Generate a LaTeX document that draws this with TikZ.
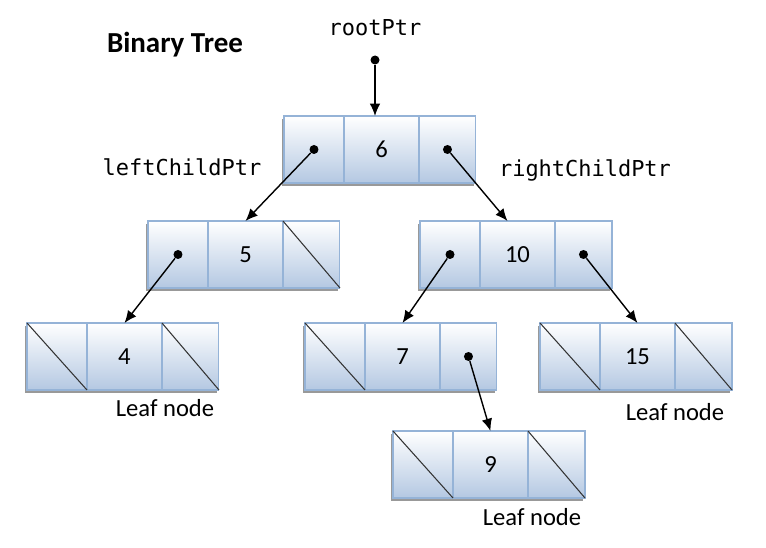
\documentclass[tikz,border=0pt]{standalone}
\usepackage{fontspec}
\setmainfont{Carlito}
\setmonofont{DejaVu Sans Mono}
\usetikzlibrary{arrows.meta}

\definecolor{cellfill}{RGB}{180,200,226}
\definecolor{celledge}{RGB}{149,179,215}

\tikzset{
  cell/.style={draw=celledge,line width=0.6pt,top color=white,bottom color=cellfill,
    minimum height=1.34cm,inner sep=0pt,outer sep=0pt,anchor=north west},
  lcell/.style={cell,minimum width=1.2cm},
  mcell/.style={cell,minimum width=1.5cm,font=\fontsize{14}{16}\selectfont},
  rcell/.style={cell,minimum width=1.14cm},
  dot/.style={circle,fill=black,inner sep=0pt,minimum size=0.18cm},
  ptrlabel/.style={font=\ttfamily\fontsize{12.5}{14}\selectfont},
  leaflabel/.style={font=\fontsize{14}{16}\selectfont},
  nullptr/.style={line width=0.6pt,black!80},
  link/.style={->,line width=0.8pt}
}

% one list node: name, x, y (top left), value
\newcommand{\listnode}[4]{%
  \fill[black!40] ({#2-2},{#3+3}) rectangle ++(192,67);
  \node[lcell] (#1l) at (#2,#3) {};
  \node[mcell] (#1) at (#1l.north east) {#4};
  \node[rcell] (#1r) at (#1.north east) {};
}

\begin{document}
\begin{tikzpicture}[>={Latex[length=7pt,width=6pt]},x=0.02cm,y=-0.02cm]
        \useasboundingbox (0,0) rectangle (766,547);
        \node[font=\bfseries\fontsize{16.5}{18}\selectfont] (title) at (175,45) {Binary Tree};
        \node[ptrlabel] (rootptr) at (375,28) {rootPtr};
        \node[dot] (rootdot) at (375,60) {};
        \listnode{n6}{284}{116}{6}
        \listnode{n5}{148}{221}{5}
        \listnode{n10}{420}{221}{10}
        \listnode{n4}{27}{323}{4}
        \listnode{n7}{305}{323}{7}
        \listnode{n15}{540}{323}{15}
        \listnode{n9}{393}{431}{9}
        % null pointers
        \draw[nullptr](n5r.north west)--(n5r.south east);
        \draw[nullptr](n4l.north west)--(n4l.south east);
        \draw[nullptr](n4r.north west)--(n4r.south east);
        \draw[nullptr](n7l.north west)--(n7l.south east);
        \draw[nullptr](n15l.north west)--(n15l.south east);
        \draw[nullptr](n15r.north west)--(n15r.south east);
        \draw[nullptr](n9l.north west)--(n9l.south east);
        \draw[nullptr](n9r.north west)--(n9r.south east);
        % pointers
        \node[dot] (p6l) at (n6l.center) {};
        \node[dot] (p6r) at (n6r.center) {};
        \node[dot] (p5l) at (n5l.center) {};
        \node[dot] (p10l) at (n10l.center) {};
        \node[dot] (p10r) at (n10r.center) {};
        \node[dot] (p7r) at (n7r.center) {};
        \coordinate (n10in) at ([xshift=-0.2cm]n10.north);
        \draw[link](rootdot)--(rootdot |- n6.north);
        \draw[link](p6l)--(n5.north);
        \draw[link](p6r)--(n10in);
        \draw[link](p5l)--(n4.north);
        \draw[link](p10l)--(n7.north);
        \draw[link](p10r)--(n15.north);
        \draw[link](p7r)--(n9.north);
        \node[ptrlabel] (leftlbl) at (182,167) {leftChildPtr};
        \node[ptrlabel] (rightlbl) at (585,170) {rightChildPtr};
        \node[leaflabel] (leaf4) at (165,408) {Leaf node};
        \node[leaflabel] (leaf15) at (675,412) {Leaf node};
        \node[leaflabel] (leaf9) at (532,517) {Leaf node};
    \end{tikzpicture}
\end{document}
